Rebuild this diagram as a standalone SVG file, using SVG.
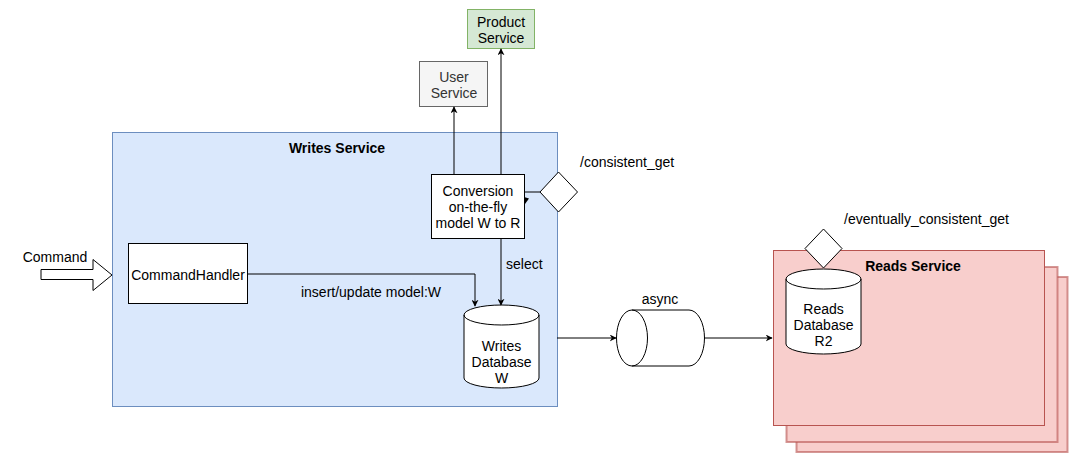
<svg xmlns="http://www.w3.org/2000/svg" width="1084" height="467" viewBox="0 0 1084 467">
<defs>
<style>
text{font-family:"Liberation Sans",Arial,sans-serif;font-size:14px;fill:#000;}
.c{text-anchor:middle;}
.b{font-weight:bold;}
.edge{fill:none;stroke:#000;stroke-width:1;}
.box{fill:#fff;stroke:#000;stroke-width:1;}
</style>
<marker id="arr" viewBox="0 0 10 10" refX="9" refY="5" markerWidth="7" markerHeight="7" markerUnits="userSpaceOnUse" orient="auto">
<path d="M0,0 L10,5 L0,10 L3,5 Z" fill="#000"/>
</marker>
</defs>
<rect width="1084" height="467" fill="#fff"/>

<g id="writes-service">
<rect x="112.5" y="132.5" width="445" height="274" fill="#dae8fc" stroke="#6c8ebf"/>
<text x="337" y="153" class="c b">Writes Service</text>
</g>

<g id="reads-service">
<rect x="796.5" y="277" width="271" height="175" fill="#f8cecc" stroke="#b85450" stroke-opacity="0.6" stroke-width="2"/>
<rect x="786.5" y="267" width="271" height="175" fill="#f8cecc" stroke="#b85450" stroke-opacity="0.6" stroke-width="2"/>
<rect x="773.5" y="250.5" width="271" height="175" fill="#f8cecc" stroke="#b85450"/>
<text x="913" y="271" class="c b">Reads Service</text>
</g>

<g id="product-service">
<rect x="467.5" y="9.5" width="67" height="39" fill="#d5e8d4" stroke="#82b366"/>
<text x="501" y="27" class="c">Product</text>
<text x="501" y="43" class="c">Service</text>
</g>

<g id="user-service">
<rect x="419.5" y="61.5" width="68" height="45" fill="#f5f5f5" stroke="#666666"/>
<text x="454" y="82" class="c" style="fill:#333333">User</text>
<text x="454" y="98" class="c" style="fill:#333333">Service</text>
</g>

<g id="conversion">
<rect x="431.5" y="174.5" width="93" height="64" class="box"/>
<text x="478" y="196" class="c">Conversion</text>
<text x="478" y="212" class="c">on-the-fly</text>
<text x="478" y="228" class="c">model W to R</text>
</g>

<g id="consistent-get">
<polygon points="558.5,172 577.5,192 558.5,212 540,192" fill="#fff" stroke="#000"/>
<text x="580" y="167">/consistent_get</text>
</g>

<g id="command">
<polygon points="41,269.5 93,269.5 93,259.5 112,275 93,290.5 93,279.5 41,279.5" fill="#fff" stroke="#000"/>
<text x="55" y="262" class="c">Command</text>
</g>

<g id="command-handler">
<rect x="128.5" y="243.5" width="119" height="60" class="box"/>
<text x="188" y="280" class="c">CommandHandler</text>
</g>

<g id="writes-db">
<path d="M464,315 A37.5,10 0 0 1 539,315 V378 A37.5,10 0 0 1 464,378 Z" fill="#fff" stroke="#000"/>
<path d="M464,315 A37.5,10 0 0 0 539,315" fill="none" stroke="#000"/>
<text x="501.5" y="350.5" class="c">Writes</text>
<text x="501.5" y="367" class="c">Database</text>
<text x="501.5" y="382.5" class="c">W</text>
</g>

<g id="async-queue">
<path d="M632,310 H689 A15.5,28 0 0 1 689,366 H632 A15.5,28 0 0 1 632,310 Z" fill="#fff" stroke="#000"/>
<path d="M632,310 A15.5,28 0 0 1 632,366" fill="none" stroke="#000"/>
<text x="660" y="303.5" class="c">async</text>
</g>

<g id="reads-db">
<path d="M786,279 A37.5,10 0 0 1 861,279 V344 A37.5,10 0 0 1 786,344 Z" fill="#fff" stroke="#000"/>
<path d="M786,279 A37.5,10 0 0 0 861,279" fill="none" stroke="#000"/>
<text x="823.5" y="314" class="c">Reads</text>
<text x="823.5" y="330" class="c">Database</text>
<text x="823.5" y="346" class="c">R2</text>
</g>

<g id="eventually-consistent-get">
<polygon points="823.5,229 842,248.5 823.5,268 805,248.5" fill="#fff" stroke="#000"/>
<text x="844" y="224">/eventually_consistent_get</text>
</g>

<g id="connectors">
<path class="edge" d="M454,174 V107" marker-end="url(#arr)"/>
<path class="edge" d="M501,174 V49" marker-end="url(#arr)"/>
<path class="edge" d="M540,192 H525"/>
<polygon points="524,197 529,198.5 525,204" fill="#000"/>
<path class="edge" d="M501,238 V305" marker-end="url(#arr)"/>
<text x="506" y="268.5">select</text>
<path class="edge" d="M247,274 H475 V306" marker-end="url(#arr)"/>
<text x="371" y="296.5" class="c">insert/update model:W</text>
<path class="edge" d="M557,338 H616" marker-end="url(#arr)"/>
<path class="edge" d="M704,338 H772" marker-end="url(#arr)"/>
</g>
</svg>
